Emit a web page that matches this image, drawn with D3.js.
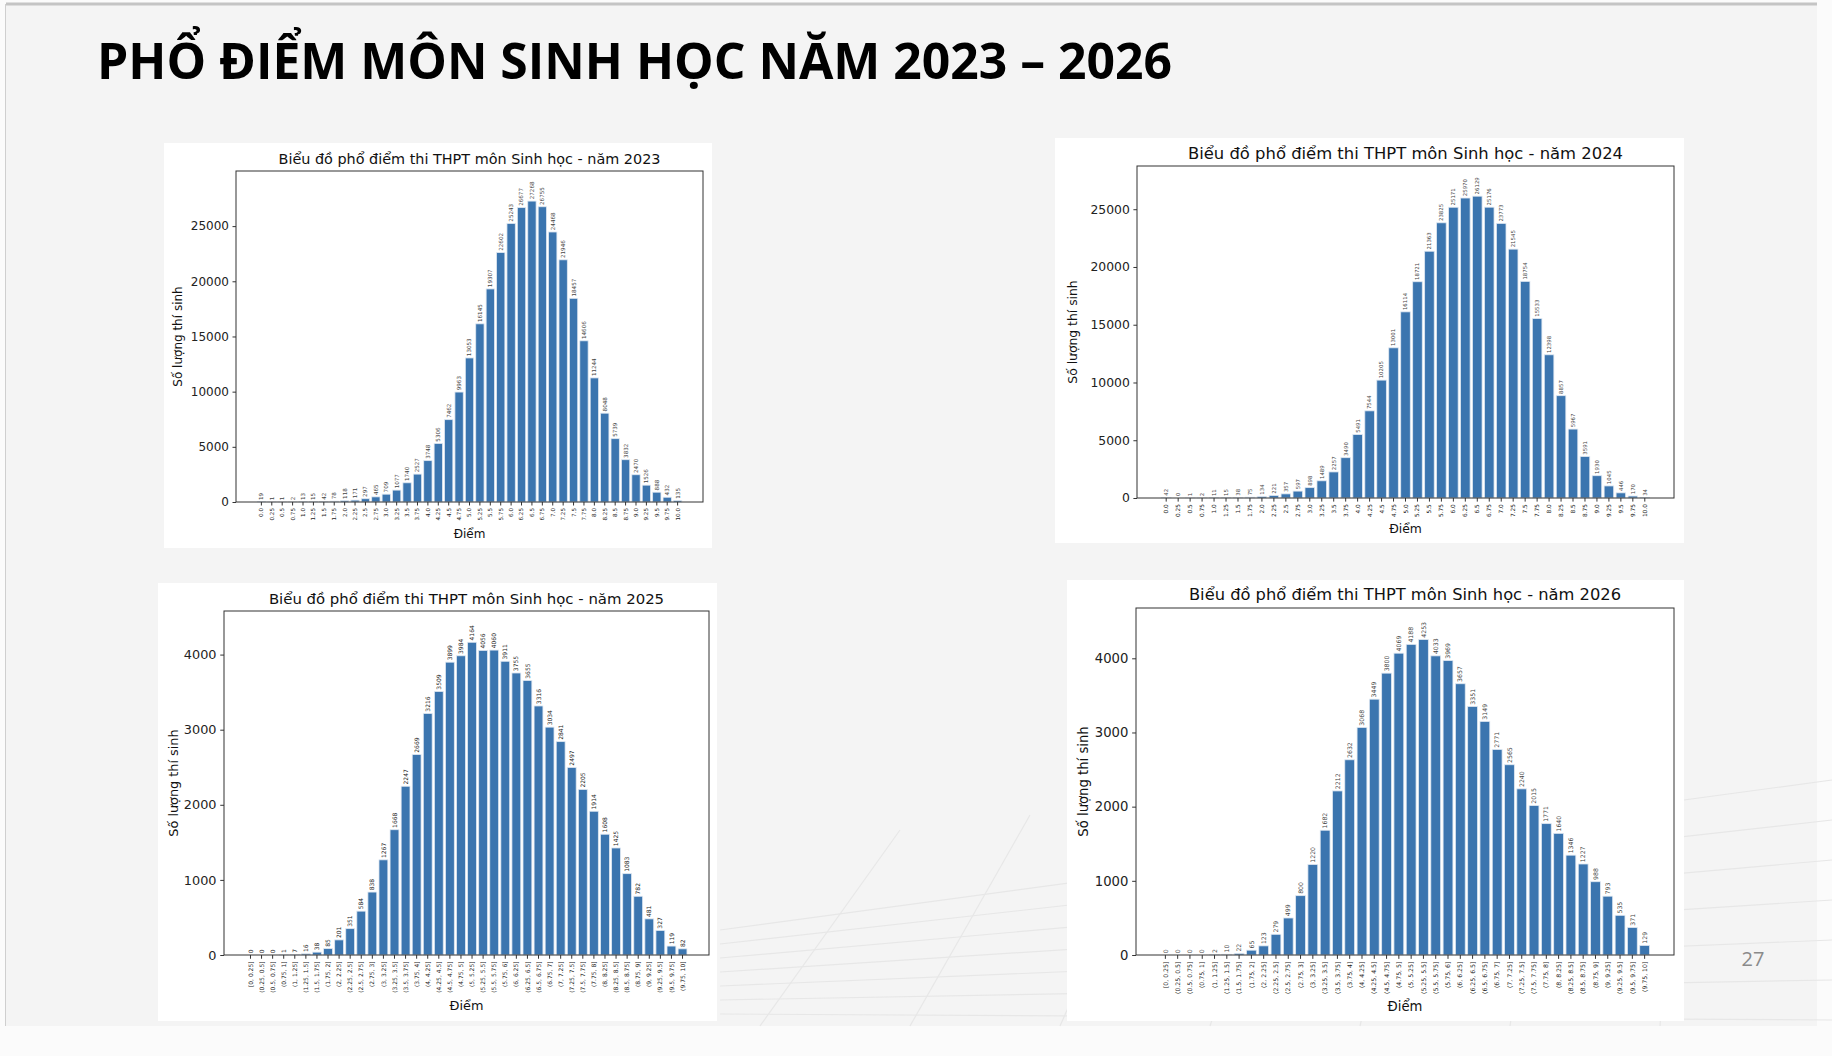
<!DOCTYPE html>
<html>
<head>
<meta charset="utf-8">
<script src="https://cdn.jsdelivr.net/npm/d3@7"></script>
<style>
  html, body { margin: 0; padding: 0; background: #fbfbfb; }
  svg { display: block; }
</style>
</head>
<body>
<svg id="slide" width="1832" height="1056"></svg>
<script>

// Tick labels
const pointLabels = [
  '0.0', '0.25', '0.5', '0.75', '1.0', '1.25', '1.5', '1.75', '2.0', '2.25',
  '2.5', '2.75', '3.0', '3.25', '3.5', '3.75', '4.0', '4.25', '4.5', '4.75',
  '5.0', '5.25', '5.5', '5.75', '6.0', '6.25', '6.5', '6.75', '7.0', '7.25',
  '7.5', '7.75', '8.0', '8.25', '8.5', '8.75', '9.0', '9.25', '9.5', '9.75', '10.0'
];

const rangeLabels = [
  '[0, 0.25]', '(0.25, 0.5]', '(0.5, 0.75]', '(0.75, 1]', '(1, 1.25]',
  '(1.25, 1.5]', '(1.5, 1.75]', '(1.75, 2]', '(2, 2.25]', '(2.25, 2.5]',
  '(2.5, 2.75]', '(2.75, 3]', '(3, 3.25]', '(3.25, 3.5]', '(3.5, 3.75]',
  '(3.75, 4]', '(4, 4.25]', '(4.25, 4.5]', '(4.5, 4.75]', '(4.75, 5]',
  '(5, 5.25]', '(5.25, 5.5]', '(5.5, 5.75]', '(5.75, 6]', '(6, 6.25]',
  '(6.25, 6.5]', '(6.5, 6.75]', '(6.75, 7]', '(7, 7.25]', '(7.25, 7.5]',
  '(7.5, 7.75]', '(7.75, 8]', '(8, 8.25]', '(8.25, 8.5]', '(8.5, 8.75]',
  '(8.75, 9]', '(9, 9.25]', '(9.25, 9.5]', '(9.5, 9.75]', '(9.75, 10]'
];

// Số lượng thí sinh
const counts2023 = [
  19, 1, 1, 2, 13, 15, 42, 78, 118, 171,
  297, 465, 709, 1077, 1740, 2527, 3748, 5306, 7462, 9963,
  13053, 16145, 19307, 22602, 25243, 26677, 27268, 26755, 24468, 21946,
  18457, 14606, 11244, 8048, 5739, 3832, 2470, 1526, 888, 432, 135
];

const counts2024 = [
  42, 0, 1, 2, 11, 15, 38, 75, 134, 221,
  357, 597, 898, 1489, 2257, 3490, 5491, 7544, 10205, 13001,
  16114, 18721, 21363, 23825, 25171, 25970, 26129, 25176, 23773, 21545,
  18754, 15533, 12398, 8857, 5967, 3591, 1930, 1045, 446, 170, 34
];

const counts2025 = [
  0, 0, 0, 1, 7, 16, 38, 85, 201, 351,
  584, 838, 1267, 1668, 2247, 2669, 3216, 3509, 3899, 3984,
  4164, 4056, 4060, 3911, 3755, 3655, 3316, 3034, 2841, 2497,
  2205, 1914, 1608, 1425, 1083, 782, 481, 327, 119, 82
];

const counts2026 = [
  0, 0, 0, 0, 2, 10, 22, 65, 123, 279,
  499, 800, 1220, 1682, 2212, 2632, 3068, 3449, 3800, 4069,
  4188, 4253, 4033, 3969, 3657, 3351, 3149, 2771, 2565, 2240,
  2015, 1771, 1640, 1346, 1227, 988, 793, 535, 371, 129
];

const bigTicks = [0, 5000, 10000, 15000, 20000, 25000];
const smallTicks = [0, 1000, 2000, 3000, 4000];

const FONT = '"DejaVu Sans", sans-serif';


/**
 * @class
 */
class ScoreChart {


  /**
   * @constructor
   * @param {Object} layout
   */
  constructor(layout) {

    this._layout = layout;
    this._fill = '#3b75af';
    this._edge = '#dfe8f2';
  }


  static getInstance(layout) {

    return new ScoreChart(layout);
  }


  /**
   * @param {String[]} labels
   * @param {Number[]} counts
   * @param {Number[]} ticks
   * @returns {ScoreChart}
   */
  setData(labels, counts, ticks) {

    this._labels = labels;
    this._counts = counts;
    this._ticks = ticks;
    return this;
  }


  /**
   * @param {SVGElement} container
   * @returns {ScoreChart}
   */
  renderTo(container) {

    const L = this._layout;
    const s = L.scale;
    const n = this._labels.length;

    this._g = d3.select(container).append('g');

    this._g.append('rect')
      .attr('x', L.panel[0])
      .attr('y', L.panel[1])
      .attr('width', L.panel[2] - L.panel[0])
      .attr('height', L.panel[3] - L.panel[1])
      .attr('fill', '#ffffff');

    const [left, top, right, bottom] = L.plot;

    this._x = d3.scaleBand()
      .domain(this._labels)
      .range([left, right])
      .paddingInner(0.2)
      .paddingOuter(0.05 * (n - 0.2));

    this._y = d3.scaleLinear()
      .domain([0, d3.max(this._counts) * 1.1])
      .range([bottom, top]);

    this._renderBars();
    this._renderAxes();

    // frame
    this._g.append('rect')
      .attr('x', left)
      .attr('y', top)
      .attr('width', right - left)
      .attr('height', bottom - top)
      .attr('fill', 'none')
      .attr('stroke', '#333')
      .attr('stroke-width', 1);

    this._g.append('text')
      .attr('x', (left + right) / 2)
      .attr('y', top - 7 * s)
      .attr('text-anchor', 'middle')
      .style('font-family', FONT)
      .style('font-size', L.titleSize + 'px')
      .style('fill', '#111')
      .text(L.title);

    this._g.append('text')
      .attr('x', (left + right) / 2)
      .attr('y', bottom + L.xLabelGap)
      .attr('text-anchor', 'middle')
      .attr('dy', '0.35em')
      .style('font-family', FONT)
      .style('font-size', 12 * s + 'px')
      .style('fill', '#111')
      .text('Điểm');

    this._g.append('text')
      .attr('transform', `translate(${left - L.yLabelGap},${(top + bottom) / 2}) rotate(-90)`)
      .attr('text-anchor', 'middle')
      .attr('dy', '0.35em')
      .style('font-family', FONT)
      .style('font-size', 12 * s + 'px')
      .style('fill', '#111')
      .text('Số lượng thí sinh');

    return this;
  }


  /**
   * @private
   */
  _renderBars() {

    const L = this._layout;
    const x = this._x;
    const y = this._y;
    const rows = this._labels.map((label, i) => ({ label, value: this._counts[i] }));

    this._g.append('g')
      .selectAll('rect')
      .data(rows)
      .join('rect')
      .attr('x', d => x(d.label))
      .attr('width', x.bandwidth())
      .attr('y', d => y(d.value))
      .attr('height', d => y(0) - y(d.value))
      .attr('fill', this._fill)
      .attr('stroke', this._edge)
      .attr('stroke-width', 0.8);

    this._g.append('g')
      .selectAll('text')
      .data(rows)
      .join('text')
      .attr('transform', d => {
        const cx = x(d.label) + x.bandwidth() / 2;
        const cy = y(d.value) - 1.8;
        return `translate(${cx},${cy}) rotate(-90)`;
      })
      .attr('dy', '0.35em')
      .style('font-family', FONT)
      .style('font-size', L.valueSize + 'px')
      .style('fill', L.valueColor)
      .text(d => d.value);
  }


  /**
   * @private
   */
  _renderAxes() {

    const L = this._layout;
    const s = L.scale;
    const tick = 3.5 * s;

    const yAxis = this._g.append('g')
      .attr('transform', `translate(${L.plot[0]},0)`)
      .call(d3.axisLeft(this._y)
        .tickValues(this._ticks)
        .tickFormat(d3.format('d'))
        .tickSize(tick)
        .tickPadding(3.5 * s));

    const xAxis = this._g.append('g')
      .attr('transform', `translate(0,${L.plot[3]})`)
      .call(d3.axisBottom(this._x).tickSize(tick));

    [yAxis, xAxis].forEach(a => {
      a.select('.domain').remove();
      a.selectAll('line').attr('stroke', '#333');
    });

    yAxis.selectAll('text')
      .style('font-family', FONT)
      .style('font-size', 12 * s + 'px')
      .style('fill', '#222');

    xAxis.selectAll('text')
      .attr('transform', 'rotate(-90)')
      .attr('text-anchor', 'end')
      .attr('x', -(tick + 2.5 * s))
      .attr('y', 0)
      .attr('dy', '0.35em')
      .style('font-family', FONT)
      .style('font-size', L.tickSize + 'px')
      .style('fill', '#222');
  }
}


const svg = d3.select('#slide');

// slide background
svg.append('rect')
  .attr('x', 6).attr('y', 4)
  .attr('width', 1811).attr('height', 1022)
  .attr('fill', '#f4f4f4');

svg.append('line')
  .attr('x1', 6).attr('x2', 1817).attr('y1', 4).attr('y2', 4)
  .attr('stroke', '#c4c4c4').attr('stroke-width', 3);

svg.append('line')
  .attr('x1', 5.5).attr('x2', 5.5).attr('y1', 4).attr('y2', 1026)
  .attr('stroke', '#cfcfcf').attr('stroke-width', 1);

// faint perspective floor behind the charts
const floor = svg.append('g')
  .attr('stroke', '#e7e7e7')
  .attr('stroke-width', 1.2)
  .attr('fill', 'none');

d3.range(0, 7).forEach(i => {
  floor.append('line')
    .attr('x1', 720).attr('y1', 930 + i * 14)
    .attr('x2', 1832).attr('y2', 780 + i * 40);
  floor.append('line')
    .attr('x1', 760 + i * 150).attr('y1', 1026)
    .attr('x2', 900 + i * 130).attr('y2', 830 - i * 15);
});

svg.append('text')
  .attr('x', 97)
  .attr('y', 79)
  .attr('textLength', 1075)
  .attr('lengthAdjust', 'spacingAndGlyphs')
  .style('font-family', '"Open Sans", "Noto Sans", sans-serif')
  .style('font-weight', 700)
  .style('font-size', '50px')
  .style('fill', '#000')
  .text('PHỔ ĐIỂM MÔN SINH HỌC NĂM 2023 – 2026');

svg.append('text')
  .attr('x', 1753)
  .attr('y', 966)
  .attr('text-anchor', 'middle')
  .style('font-family', '"Open Sans", sans-serif')
  .style('font-size', '20px')
  .style('fill', '#8a8a8a')
  .text('27');

ScoreChart.getInstance({
  panel: [164, 143, 712, 548],
  plot: [236, 171, 703, 502],
  scale: 1,
  titleSize: 14.4,
  valueSize: 5.6,
  tickSize: 5.6,
  valueColor: '#444',
  xLabelGap: 32,
  yLabelGap: 58,
  title: 'Biểu đồ phổ điểm thi THPT môn Sinh học - năm 2023'
}).setData(pointLabels, counts2023, bigTicks).renderTo(svg.node());

ScoreChart.getInstance({
  panel: [1055, 138, 1684, 543],
  plot: [1137, 166, 1674, 498],
  scale: 1.03,
  titleSize: 16.4,
  valueSize: 5.4,
  tickSize: 5.8,
  valueColor: '#444',
  xLabelGap: 31,
  yLabelGap: 64,
  title: 'Biểu đồ phổ điểm thi THPT môn Sinh học - năm 2024'
}).setData(pointLabels, counts2024, bigTicks).renderTo(svg.node());

ScoreChart.getInstance({
  panel: [158, 583, 717, 1021],
  plot: [224, 611, 709, 955],
  scale: 1.07,
  titleSize: 14.9,
  valueSize: 6,
  tickSize: 6,
  valueColor: '#1a1a1a',
  xLabelGap: 51,
  yLabelGap: 51,
  title: 'Biểu đồ phổ điểm thi THPT môn Sinh học - năm 2025'
}).setData(rangeLabels, counts2025, smallTicks).renderTo(svg.node());

ScoreChart.getInstance({
  panel: [1067, 580, 1684, 1021],
  plot: [1136, 608, 1674, 955],
  scale: 1.1,
  titleSize: 16.3,
  valueSize: 6.2,
  tickSize: 6.2,
  valueColor: '#444',
  xLabelGap: 51,
  yLabelGap: 53,
  title: 'Biểu đồ phổ điểm thi THPT môn Sinh học - năm 2026'
}).setData(rangeLabels, counts2026, smallTicks).renderTo(svg.node());

</script>
</body>
</html>
